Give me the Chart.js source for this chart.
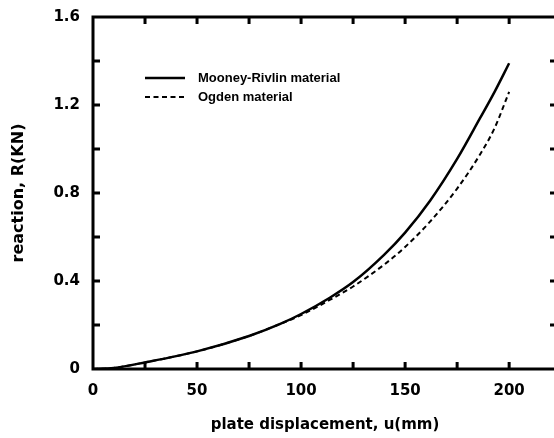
<!DOCTYPE html>
<html>
<head>
<meta charset="utf-8">
<script src="https://cdn.jsdelivr.net/npm/chart.js@4/dist/chart.umd.min.js"></script>
<style>
  html, body { margin: 0; padding: 0; background: #fff; overflow: hidden; }
  #wrap { width: 560px; height: 438px; position: relative; }
</style>
</head>
<body>
<div id="wrap"><canvas id="c"></canvas></div>
<script>
// ---- data ----
const displacement = [0, 10, 25, 50, 75, 90, 100, 114, 125, 140, 150, 162, 175, 186, 193, 200];
const mooneyRivlin = [0, 0.005, 0.03, 0.08, 0.15, 0.205, 0.25, 0.325, 0.395, 0.52, 0.62, 0.765, 0.955, 1.14, 1.26, 1.39];
const ogden        = [0, 0.005, 0.03, 0.08, 0.15, 0.205, 0.245, 0.315, 0.375, 0.475, 0.555, 0.67, 0.82, 0.975, 1.095, 1.26];
const seriesLabels = ['Mooney-Rivlin material', 'Ogden material'];
const xTitle = 'plate displacement, u(mm)';
const yTitle = 'reaction, R(KN)';
const xLabelTicks = [0, 50, 100, 150, 200];
const yLabelTicks = [0, 0.4, 0.8, 1.2, 1.6];

const toPoints = (xs, ys) => xs.map((x, i) => ({x, y: ys[i]}));

const framePlugin = {
  id: 'frame',
  afterDraw(chart) {
    const {ctx, chartArea: a, scales} = chart;
    const len = 7;
    ctx.save();
    ctx.strokeStyle = '#000';
    ctx.lineWidth = 3;
    ctx.lineCap = 'butt';
    ctx.strokeRect(a.left, a.top, a.right - a.left, a.bottom - a.top);
    ctx.beginPath();
    scales.x.ticks.forEach(t => {
      const px = scales.x.getPixelForValue(t.value);
      if (px <= a.left + 2 || px >= a.right - 2) return;
      ctx.moveTo(px, a.bottom); ctx.lineTo(px, a.bottom - len);
      ctx.moveTo(px, a.top); ctx.lineTo(px, a.top + len);
    });
    scales.y.ticks.forEach(t => {
      const py = scales.y.getPixelForValue(t.value);
      if (py <= a.top + 2 || py >= a.bottom - 2) return;
      ctx.moveTo(a.left, py); ctx.lineTo(a.left + len, py);
      ctx.moveTo(a.right, py); ctx.lineTo(a.right - len, py);
    });
    ctx.stroke();

    // legend inside plot
    const rows = [78, 97];
    chart.data.datasets.forEach((ds, i) => {
      const y = rows[i];
      ctx.beginPath();
      ctx.lineWidth = ds.borderWidth;
      ctx.setLineDash(ds.borderDash || []);
      ctx.moveTo(145, y); ctx.lineTo(185, y);
      ctx.stroke();
      ctx.setLineDash([]);
      ctx.fillStyle = '#000';
      ctx.font = 'bold 13px "Liberation Sans", Arial, sans-serif';
      ctx.textBaseline = 'middle';
      ctx.textAlign = 'left';
      ctx.fillText(ds.label, 198, y);
    });
    ctx.restore();
  }
};

const tickFont = {family: '"DejaVu Sans", sans-serif', size: 15, weight: 'bold'};

new Chart(document.getElementById('c'), {
  type: 'line',
  data: {
    datasets: [
      {
        label: seriesLabels[0],
        data: toPoints(displacement, mooneyRivlin),
        borderColor: '#000', borderWidth: 2.5,
        pointRadius: 0, cubicInterpolationMode: 'monotone', fill: false
      },
      {
        label: seriesLabels[1],
        data: toPoints(displacement, ogden),
        borderColor: '#000', borderWidth: 2, borderDash: [5, 3.5],
        pointRadius: 0, cubicInterpolationMode: 'monotone', fill: false
      }
    ]
  },
  options: {
    responsive: true,
    maintainAspectRatio: false,
    animation: false,
    layout: {padding: {top: 17, right: 3, bottom: 0, left: 0}},
    plugins: {legend: {display: false}, tooltip: {enabled: false}},
    scales: {
      x: {
        type: 'linear', min: 0, max: 223,
        grid: {display: false, drawTicks: false},
        border: {display: false},
        afterFit(s) { s.height = 69; s.paddingLeft = 0; s.paddingRight = 0; },
        ticks: {
          stepSize: 25, includeBounds: false, autoSkip: false, maxRotation: 0,
          padding: 13, color: '#000', font: tickFont,
          callback: v => xLabelTicks.includes(v) ? String(v) : ''
        },
        title: {
          display: true, text: xTitle, color: '#000',
          font: {family: '"DejaVu Sans", sans-serif', size: 15, weight: 'bold'},
          padding: {top: 0, bottom: 4}
        }
      },
      y: {
        type: 'linear', min: 0, max: 1.6,
        grid: {display: false, drawTicks: false},
        border: {display: false},
        afterFit(s) { s.width = 93; s.paddingTop = 0; s.paddingBottom = 0; },
        ticks: {
          stepSize: 0.2, includeBounds: false, autoSkip: false,
          padding: 13, color: '#000', font: tickFont,
          callback: v => {
            const r = Math.round(v * 10) / 10;
            return yLabelTicks.some(t => Math.abs(t - r) < 1e-6) ? (r === 0 ? '0' : r.toFixed(1)) : '';
          }
        },
        title: {
          display: true, text: yTitle, color: '#000',
          font: {family: '"DejaVu Sans", sans-serif', size: 16, weight: 'bold'},
          padding: {top: 9, bottom: 0}
        }
      }
    }
  },
  plugins: [framePlugin]
});
</script>
</body>
</html>
